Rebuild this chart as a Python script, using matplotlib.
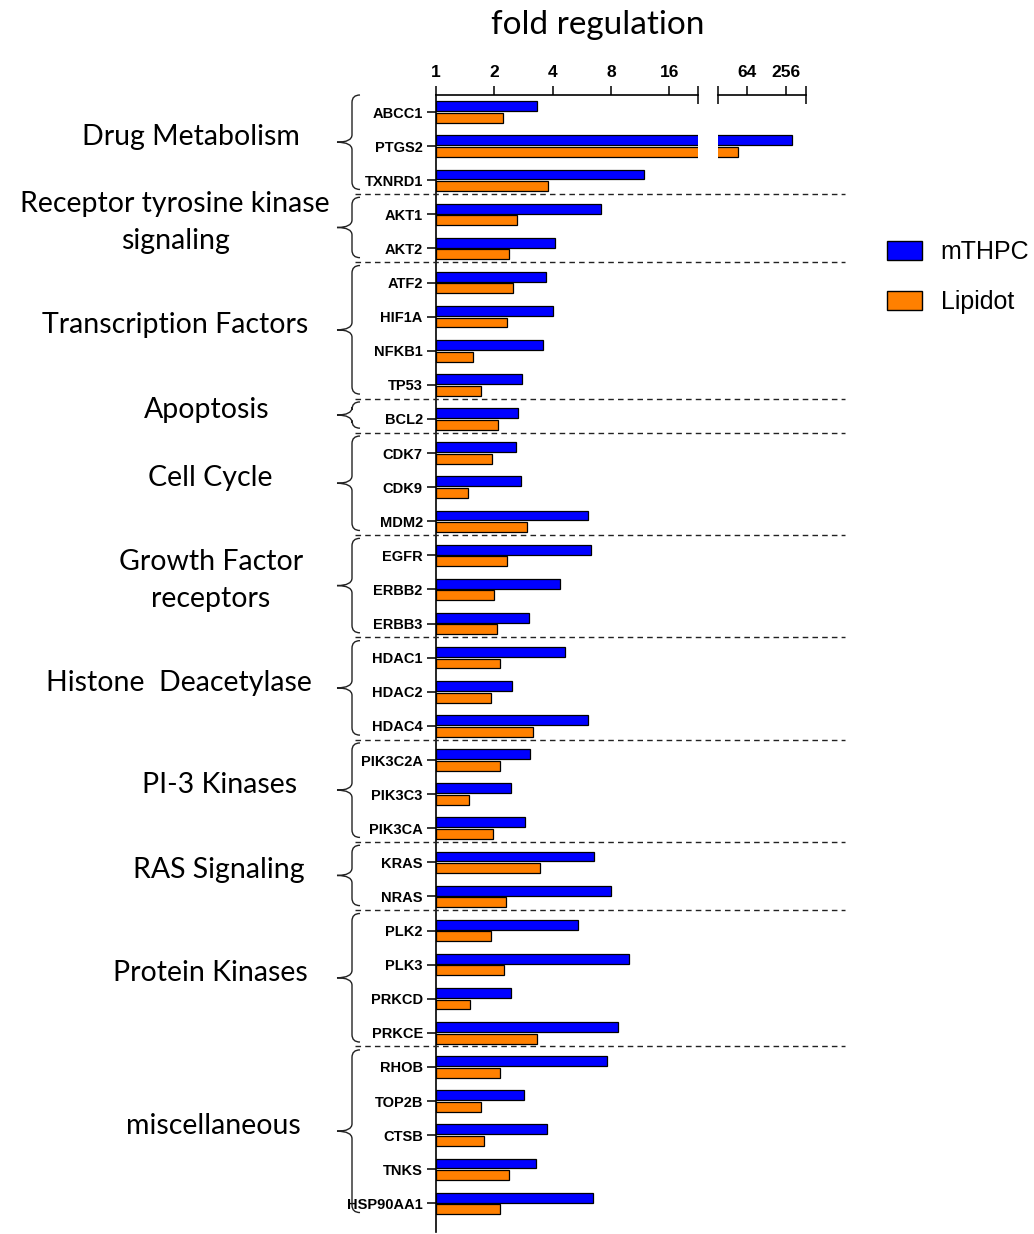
import numpy as np
import matplotlib.pyplot as plt
from matplotlib.path import Path
from matplotlib.patches import PathPatch, Patch
from matplotlib.lines import Line2D
from matplotlib.ticker import FixedLocator, NullFormatter
from matplotlib import transforms

genes = ["ABCC1", "PTGS2", "TXNRD1",
         "AKT1", "AKT2",
         "ATF2", "HIF1A", "NFKB1", "TP53",
         "BCL2",
         "CDK7", "CDK9", "MDM2",
         "EGFR", "ERBB2", "ERBB3",
         "HDAC1", "HDAC2", "HDAC4",
         "PIK3C2A", "PIK3C3", "PIK3CA",
         "KRAS", "NRAS",
         "PLK2", "PLK3", "PRKCD", "PRKCE",
         "RHOB", "TOP2B", "CTSB", "TNKS", "HSP90AA1"]

mthpc = [3.34, 325, 11.8,
         7.09, 4.12,
         3.71, 4.0, 3.57, 2.78,
         2.65,
         2.59, 2.75, 6.09,
         6.31, 4.37, 3.01,
         4.62, 2.47, 6.09,
         3.07, 2.44, 2.88,
         6.54, 8.0,
         5.41, 9.92, 2.44, 8.7,
         7.64, 2.86, 3.73, 3.27, 6.49]

lipidot = [2.21, 45, 3.77,
           2.61, 2.38,
           2.49, 2.33, 1.55, 1.71,
           2.09,
           1.95, 1.46, 2.95,
           2.33, 1.99, 2.07,
           2.14, 1.92, 3.18,
           2.14, 1.48, 1.97,
           3.44, 2.30,
           1.92, 2.24, 1.50, 3.32,
           2.14, 1.70, 1.76, 2.37, 2.14]

group_names = ["Drug Metabolism", "Receptor tyrosine kinase\nsignaling",
               "Transcription Factors", "Apoptosis", "Cell Cycle",
               "Growth Factor\nreceptors", "Histone  Deacetylase",
               "PI-3 Kinases", "RAS Signaling", "Protein Kinases",
               "miscellaneous"]
group_sizes = [3, 2, 4, 1, 3, 3, 3, 3, 2, 4, 5]
# horizontal centre of each group label, in pixels
label_x = [191, 175, 175, 207, 210, 211, 179, 220, 219, 210, 213]

W, H = 1034, 1234
BLUE = "#0000ff"
ORANGE = "#ff8000"
ARIAL = "Liberation Sans"
CAL = "Lato"

fig = plt.figure(figsize=(W / 100, H / 100), dpi=100)
bottom = 1 - 1232 / H
height = (1232 - 95) / H
ax1 = fig.add_axes([436 / W, bottom, 261.7 / W, height])
ax2 = fig.add_axes([717.7 / W, bottom, 88 / W, height])

y = np.arange(len(genes))
for ax in (ax1, ax2):
    ax.set_xscale("log", base=2)
    ax.barh(y - 0.17, np.array(mthpc) - 1, left=1, height=0.29,
            color=BLUE, edgecolor="black", linewidth=0.9)
    ax.barh(y + 0.17, np.array(lipidot) - 1, left=1, height=0.29,
            color=ORANGE, edgecolor="black", linewidth=0.9)
    ax.set_ylim(32.84, -0.5)
    ax.xaxis.set_ticks_position("top")
    ax.spines["right"].set_visible(False)
    ax.spines["bottom"].set_visible(False)
    ax.spines["top"].set_linewidth(1.2)
    ax.tick_params(axis="x", which="major", direction="out", length=6.5,
                   width=1.1, pad=4)
    ax.tick_params(axis="x", which="minor", direction="inout", length=13,
                   width=1.1, top=True, bottom=False)
    ax.xaxis.set_minor_formatter(NullFormatter())

lo1, hi1 = 1, 2 ** 4.49
lo2, hi2 = 2 ** 4.46, 2 ** 9.04
ax1.set_xlim(lo1, hi1)
ax2.set_xlim(lo2, hi2)

ax1.set_xticks([1, 2, 4, 8, 16])
ax1.set_xticklabels(["1", "2", "4", "8", "16"])
ax1.xaxis.set_minor_locator(FixedLocator([hi1]))
ax2.set_xticks([64, 256])
ax2.set_xticklabels(["64", "256"])
ax2.xaxis.set_minor_locator(FixedLocator([lo2, hi2]))
for ax in (ax1, ax2):
    for t in ax.get_xticklabels():
        t.set_fontfamily(ARIAL)
        t.set_fontweight("bold")
        t.set_fontsize(12.5)

ax1.spines["left"].set_linewidth(1.2)
ax1.set_yticks(y)
ax1.set_yticklabels(genes, fontfamily=ARIAL, fontweight="bold", fontsize=10.5)
ax1.tick_params(axis="y", direction="out", length=6.5, width=1.1, pad=3)

ax2.spines["left"].set_visible(False)
ax2.set_yticks([])

# group separators and braces, x in figure fraction, y in gene units
trans = transforms.blended_transform_factory(fig.transFigure, ax1.transData)
starts = np.cumsum([0] + group_sizes[:-1])
ends = starts + np.array(group_sizes) - 1

for e in ends[:-1]:
    fig.add_artist(Line2D([355 / W, 845 / W], [e + 0.4, e + 0.4],
                          transform=trans, color="#222222", lw=1,
                          linestyle=(0, (4, 3))))


def brace(y0, y1, xr=360, xm=352, xt=337, r=0.22):
    ym = (y0 + y1) / 2
    xr, xm, xt = xr / W, xm / W, xt / W
    verts = [(xr, y0), (xm, y0), (xm, y0 + r),
             (xm, ym - r), (xm, ym), (xt, ym),
             (xm, ym), (xm, ym + r),
             (xm, y1 - r), (xm, y1), (xr, y1)]
    codes = [Path.MOVETO, Path.CURVE3, Path.CURVE3,
             Path.LINETO, Path.CURVE3, Path.CURVE3,
             Path.CURVE3, Path.CURVE3,
             Path.LINETO, Path.CURVE3, Path.CURVE3]
    fig.add_artist(PathPatch(Path(verts, codes), transform=trans,
                             fill=False, edgecolor="#222222", lw=1))
    return ym


for name, s, e, lx in zip(group_names, starts, ends, label_x):
    ym = brace(s - 0.5, e + 0.27)
    fig.text(lx / W, ym - 0.15, name, transform=trans, ha="center",
             va="center", fontfamily=CAL, fontsize=20.5, linespacing=1.5)

fig.text(598 / W, 1 - 25 / H, "fold regulation", ha="center", va="center",
         fontfamily=CAL, fontsize=24)

handles = [Patch(facecolor=BLUE, edgecolor="black", lw=1, label="mTHPC"),
           Patch(facecolor=ORANGE, edgecolor="black", lw=1, label="Lipidot")]
fig.legend(handles=handles, loc="upper left",
           bbox_to_anchor=(887 / W, 1 - 240 / H), frameon=False,
           borderpad=0, borderaxespad=0, handlelength=1.4,
           handleheight=0.8, handletextpad=0.75, labelspacing=1.05,
           prop={"family": ARIAL, "size": 18})

fig.savefig("out.png", dpi=100)
